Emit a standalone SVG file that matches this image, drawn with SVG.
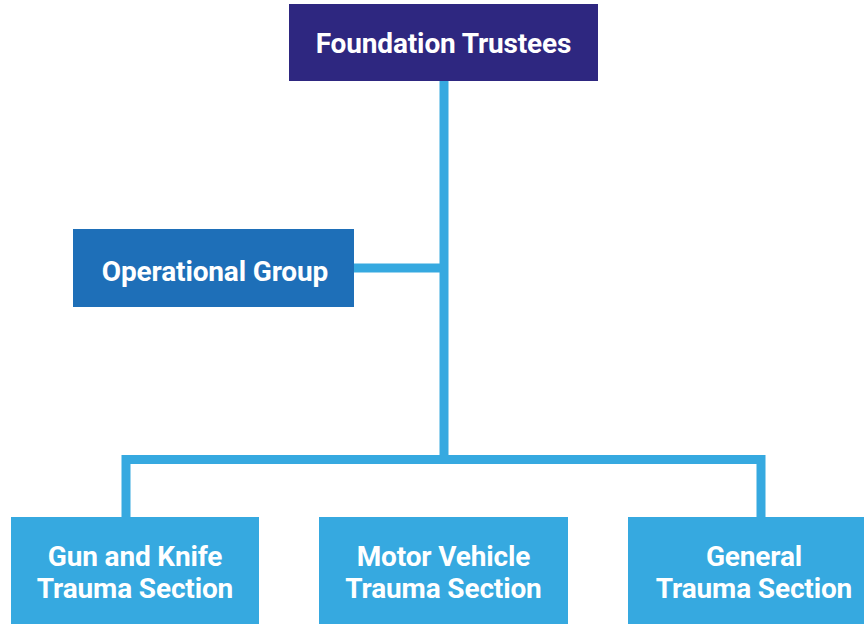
<svg xmlns="http://www.w3.org/2000/svg" width="864" height="624" viewBox="0 0 864 624">
<style>
.t{font-family:Roboto,"Liberation Sans",sans-serif;font-weight:bold;font-size:28px;fill:#ffffff;text-anchor:middle;letter-spacing:-0.15px}
.c{stroke:#36a9e0;stroke-width:9;fill:none}
</style>
<rect width="864" height="624" fill="#ffffff"/>
<g id="connectors">
<path class="c" d="M444 81V464"/>
<path class="c" d="M354 268H444"/>
<path class="c" d="M126 517V459.5H761V517"/>
</g>
<g id="foundation-trustees">
<rect x="289" y="4" width="309" height="77" fill="#2e2780"/>
<text class="t" x="443.5" y="53">Foundation Trustees</text>
</g>
<g id="operational-group">
<rect x="73" y="229" width="281" height="78" fill="#1e6fb8"/>
<text class="t" x="215" y="281">Operational Group</text>
</g>
<g id="gun-knife">
<rect x="11" y="517" width="248" height="120" fill="#36a9e0"/>
<text class="t" x="135" y="566">Gun and Knife</text>
<text class="t" x="135" y="598">Trauma Section</text>
</g>
<g id="motor-vehicle">
<rect x="319" y="517" width="249" height="120" fill="#36a9e0"/>
<text class="t" x="443.5" y="566">Motor Vehicle</text>
<text class="t" x="443.5" y="598">Trauma Section</text>
</g>
<g id="general">
<rect x="628" y="517" width="252" height="120" fill="#36a9e0"/>
<text class="t" x="754" y="566">General</text>
<text class="t" x="754" y="598">Trauma Section</text>
</g>
</svg>
